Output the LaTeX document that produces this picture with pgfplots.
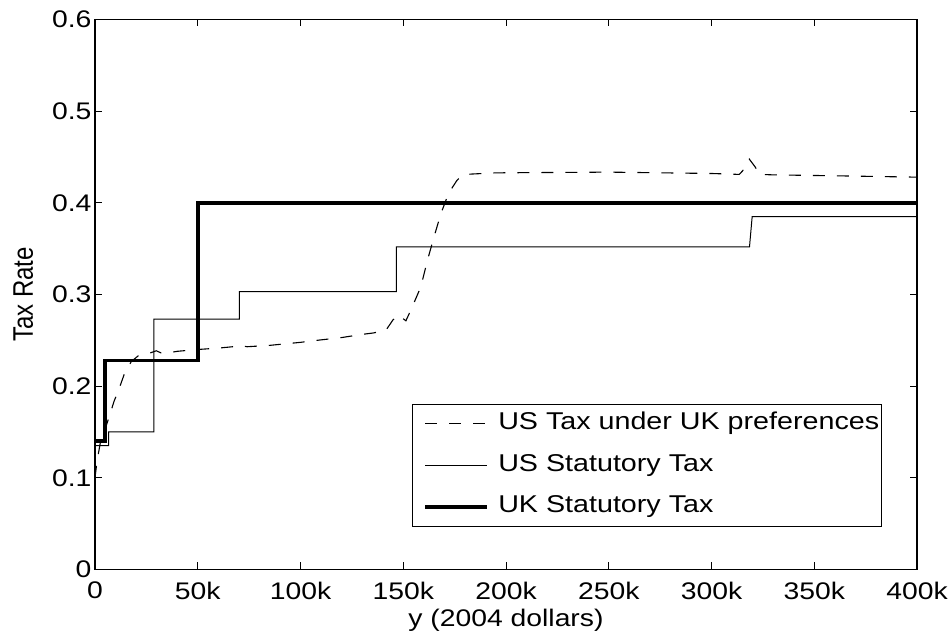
\documentclass[border=0pt]{standalone}
\usepackage{pgfplots}
\pgfplotsset{compat=1.18}
\usepackage{fontspec}
\usepackage{graphicx}
\setmainfont{Liberation Sans}[FakeStretch=1.18]
\newfontfamily\plainsans{Liberation Sans}
\newcommand{\figfont}{\fontsize{24bp}{28bp}\selectfont}
\newcommand{\legfont}{\fontsize{24.3bp}{28bp}\selectfont}

% tax schedules, income in thousands of 2004 dollars
\pgfplotstableread{
x rate
0 0.140
5.0 0.140
5.0 0.228
50.3 0.228
50.3 0.400
400 0.400
}\uktax

\pgfplotstableread{
x rate
0 0.135
6.6 0.135
6.6 0.150
28.7 0.150
28.7 0.273
70.2 0.273
70.2 0.303
146.6 0.303
146.6 0.352
318.5 0.352
319.8 0.385
400 0.385
}\ustax

\pgfplotstableread{
x rate
0 0.100
1.0 0.118
2.8 0.141
4.7 0.152
6.7 0.165
9.2 0.183
12.0 0.199
14.4 0.214
17.7 0.227
21.0 0.233
26.6 0.236
29.8 0.2386
32.0 0.2364
35.0 0.236
40.0 0.238
50.0 0.240
60.0 0.2415
67.0 0.243
70.5 0.2445
74.0 0.243
85.0 0.2445
100.0 0.2478
110.0 0.2505
120.0 0.2530
130.0 0.2565
135.4 0.2580
141.6 0.2610
144.9 0.2720
147.6 0.2775
151.3 0.2713
154.1 0.2850
158.5 0.3080
161.8 0.3375
165.0 0.3630
168.3 0.3880
171.4 0.4065
173.9 0.4168
176.0 0.4240
178.0 0.4290
182.5 0.4313
195.0 0.4327
250.0 0.4335
300.0 0.4320
313.5 0.4310
315.2 0.4350
318.4 0.4477
321.2 0.4393
323.5 0.4310
330.0 0.4305
360.0 0.4295
400.0 0.4280
}\usukpref

\begin{document}
\begin{tikzpicture}
\begin{axis}[
  scale only axis, width=822bp, height=550bp,
  xmin=0, xmax=400, ymin=0, ymax=0.6,
  xtick={0,50,100,150,200,250,300,350,400},
  xticklabels={0,50k,100k,150k,200k,250k,300k,350k,400k},
  ytick={0,0.1,0.2,0.3,0.4,0.5,0.6},
  yticklabels={0,0.1,0.2,0.3,0.4,0.5,0.6},
  tick align=inside, major tick length=7bp,
  every tick/.style={black, line width=0.8bp},
  axis line style={line width=1.3bp},
  tick label style={font=\figfont},
  label style={font=\figfont},
  xticklabel shift=9bp,
  xlabel shift=3bp,
  ylabel shift=12bp,
  xlabel={y (2004 dollars)},
  ylabel={\scalebox{1}[1.18]{\plainsans\figfont Tax Rate}},
  legend cell align=left,
  legend image code/.code={\path (0bp,0bp); \draw[#1] (9bp,0bp) -- (71bp,0bp);},
  legend style={at={(0.957,0.078)}, anchor=south east, draw=black, line width=0.9bp,
    font=\legfont, inner xsep=2bp, inner ysep=8.3bp, row sep=19.5bp,
    nodes={inner sep=0pt, text height=17bp, text depth=5bp},
    /tikz/every odd column/.append style={column sep=9bp}},
]
\addplot[black, line width=1.1bp, dash pattern=on 12bp off 12bp] table[x=x, y=rate] {\usukpref};
\addlegendentry{US Tax under UK preferences}
\addplot[black, line width=1.0bp] table[x=x, y=rate] {\ustax};
\addlegendentry{US Statutory Tax}
\addplot[black, line width=3.8bp] table[x=x, y=rate] {\uktax};
\addlegendentry{UK Statutory Tax}
\end{axis}
\path ([xshift=-95bp, yshift=-64.5bp]current axis.south west)
  rectangle ([xshift=34bp, yshift=19.5bp]current axis.north east);
\end{tikzpicture}
\end{document}
